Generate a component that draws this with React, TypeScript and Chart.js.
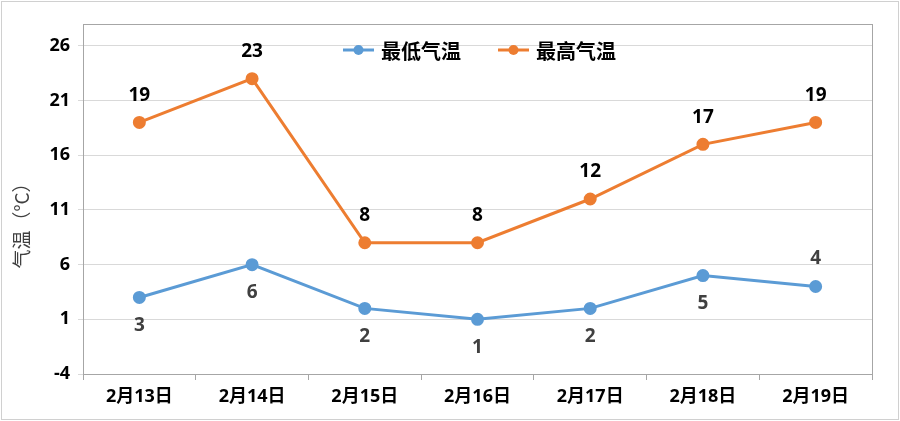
import React, { useEffect, useRef } from "react";
import { Chart, registerables } from "chart.js";

Chart.register(...registerables);

const categories = ["2月13日", "2月14日", "2月15日", "2月16日", "2月17日", "2月18日", "2月19日"];
const lowTemps = [3, 6, 2, 1, 2, 5, 4];
const highTemps = [19, 23, 8, 8, 12, 17, 19];
const yTicks = [-4, 1, 6, 11, 16, 21, 26];
const lowLabelAbove = [false, false, false, false, false, false, true];

const BLUE = "#5B9BD5";
const ORANGE = "#ED7D31";
const FONT = "'Open Sans', 'Noto Sans CJK SC', sans-serif";
const CJK = "'Noto Sans CJK SC', sans-serif";

const decorPlugin = {
  id: "decor",
  beforeDraw(chart: any) {
    const ctx = chart.ctx;
    ctx.save();
    ctx.fillStyle = "#ffffff";
    ctx.fillRect(0, 0, chart.width, chart.height);
    ctx.strokeStyle = "#d0d0d0";
    ctx.lineWidth = 1;
    ctx.strokeRect(1.5, 1.5, chart.width - 3, chart.height - 3);
    ctx.restore();
  },
  afterDatasetsDraw(chart: any) {
    const ctx = chart.ctx;
    const a = chart.chartArea;
    ctx.save();
    ctx.strokeStyle = "#a6a6a6";
    ctx.lineWidth = 1;
    ctx.strokeRect(Math.round(a.left) + 0.5, Math.round(a.top) + 0.5, Math.round(a.right - a.left), Math.round(a.bottom - a.top));

    // data labels
    ctx.font = `bold 19px ${FONT}`;
    ctx.textAlign = "center";
    ctx.textBaseline = "middle";
    const high = chart.getDatasetMeta(1).data;
    high.forEach((p: any, i: number) => {
      ctx.fillStyle = "#000000";
      ctx.fillText(String(highTemps[i]), p.x, p.y - 27);
    });
    const low = chart.getDatasetMeta(0).data;
    low.forEach((p: any, i: number) => {
      ctx.fillStyle = "#404040";
      ctx.fillText(String(lowTemps[i]), p.x, lowLabelAbove[i] ? p.y - 28 : p.y + 28);
    });

    // y-axis title
    ctx.save();
    ctx.translate(22, 221);
    ctx.rotate(-Math.PI / 2);
    ctx.font = `19px ${CJK}`;
    ctx.fillStyle = "#404040";
    ctx.fillText("气温（°C）", 0, 0);
    ctx.restore();

    // legend
    const items = [
      { label: chart.data.datasets[0].label, color: BLUE, x: 343 },
      { label: chart.data.datasets[1].label, color: ORANGE, x: 498 },
    ];
    const ly = 50;
    ctx.font = `bold 20px ${CJK}`;
    ctx.textAlign = "left";
    items.forEach((it) => {
      ctx.strokeStyle = it.color;
      ctx.lineWidth = 3;
      ctx.beginPath();
      ctx.moveTo(it.x, ly);
      ctx.lineTo(it.x + 31, ly);
      ctx.stroke();
      ctx.fillStyle = it.color;
      ctx.beginPath();
      ctx.arc(it.x + 15.5, ly, 5, 0, Math.PI * 2);
      ctx.fill();
      ctx.fillStyle = "#000000";
      ctx.fillText(it.label, it.x + 38, ly + 1);
    });
    ctx.restore();
  },
};

export default function App() {
  const ref = useRef<HTMLCanvasElement | null>(null);
  useEffect(() => {
    if (!ref.current) return;
    const chart = new Chart(ref.current, {
      type: "line",
      data: {
        labels: categories,
        datasets: [
          {
            label: "最低气温",
            data: lowTemps,
            borderColor: BLUE,
            backgroundColor: BLUE,
            borderWidth: 3,
            pointRadius: 5,
            pointHoverRadius: 5,
            tension: 0,
          },
          {
            label: "最高气温",
            data: highTemps,
            borderColor: ORANGE,
            backgroundColor: ORANGE,
            borderWidth: 3,
            pointRadius: 5,
            pointHoverRadius: 5,
            tension: 0,
          },
        ],
      },
      options: {
        animation: false,
        responsive: false,
        maintainAspectRatio: false,
        layout: { padding: { left: 0, top: 24, right: 28, bottom: 0 } },
        plugins: {
          legend: { display: false },
          tooltip: { enabled: false },
        },
        scales: {
          x: {
            offset: true,
            grid: { offset: true, drawOnChartArea: false, tickLength: 6, color: "#a6a6a6" },
            border: { color: "#a6a6a6" },
            ticks: { color: "#000000", font: { family: FONT, size: 18, weight: "bold" }, padding: 6, maxRotation: 0 },
            afterFit(scale: any) {
              scale.height = 47;
            },
          },
          y: {
            min: -4,
            max: 28,
            afterBuildTicks(scale: any) {
              scale.ticks = yTicks.map((v) => ({ value: v }));
            },
            grid: { color: "#d9d9d9", tickLength: 5 },
            border: { color: "#a6a6a6" },
            ticks: { color: "#000000", font: { family: FONT, size: 18, weight: "bold" }, padding: 8 },
            afterFit(scale: any) {
              scale.width = 83;
            },
          },
        },
      },
      plugins: [decorPlugin],
    });
    return () => chart.destroy();
  }, []);
  return (
    <div style={{ position: "fixed", left: 0, top: 0, width: 900, height: 421 }}>
      <canvas ref={ref} width={900} height={421} style={{ width: 900, height: 421 }} />
    </div>
  );
}
